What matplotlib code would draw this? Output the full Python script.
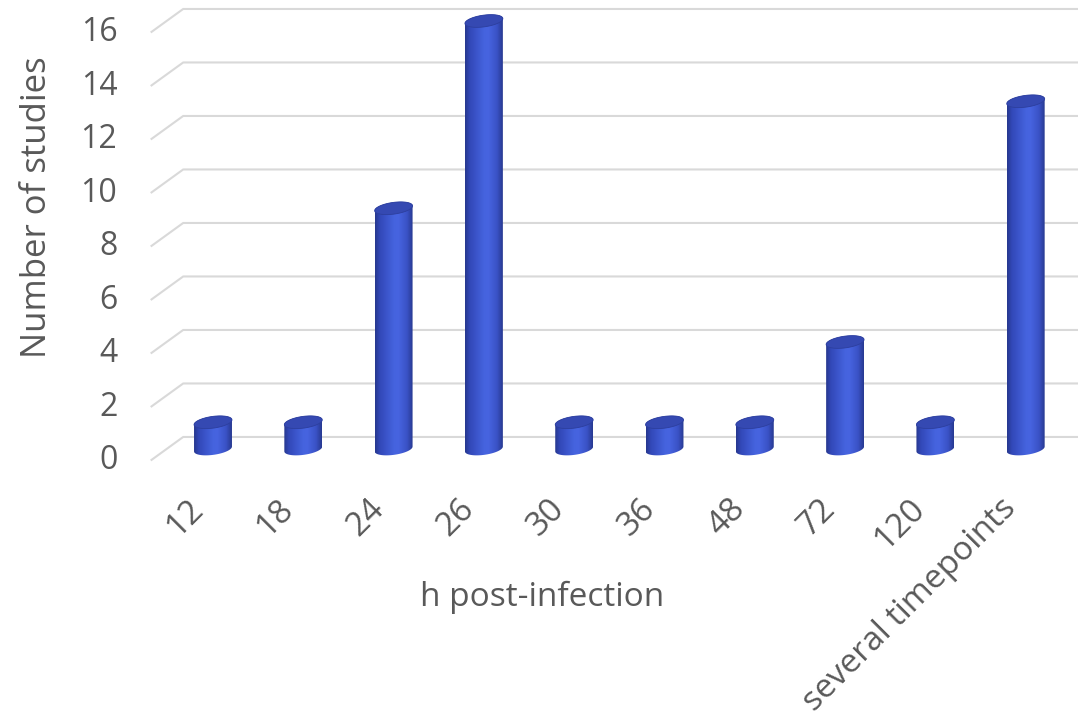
import numpy as np
import matplotlib.pyplot as plt
from matplotlib.path import Path
from matplotlib.patches import PathPatch, Polygon
from matplotlib.colors import LinearSegmentedColormap

plt.rcParams['font.family'] = ['Open Sans', 'DejaVu Sans']

categories = ['12', '18', '24', '26', '30', '36', '48', '72', '120', 'several timepoints']
studies = [1, 1, 9, 16, 1, 1, 1, 4, 1, 13]
yticks = [0, 2, 4, 6, 8, 10, 12, 14, 16]

TXT = '#595959'
GRID = '#d9d9d9'

# pseudo-3d geometry in data units (1 unit x = one category, 1 unit y = one study)
BACK_DY = 0.45      # back wall sits above the bar plane
FRONT_DY = -0.43    # front edge of the side wall
BACK_X0 = -0.33
FRONT_X0 = -0.69
HW = 0.21           # cylinder half width
RY = 0.22           # ellipse half height
TILT = 0.09         # right side of the ellipses sits a bit higher

fig = plt.figure(figsize=(10.78, 7.25), dpi=100)
ax = fig.add_axes([0, 0, 1, 1])
ax.set_axis_off()

# wall gridlines: diagonal on the side wall, then flat along the back wall
for v in yticks:
    ax.plot([FRONT_X0, BACK_X0, 9.6], [v + FRONT_DY, v + BACK_DY, v + BACK_DY],
            color=GRID, lw=1.5, solid_capstyle='butt', zorder=1)
    ax.text(-1.06, v + FRONT_DY, str(v), ha='right', va='center',
            fontsize=23, color=TXT)

shade = LinearSegmentedColormap.from_list('cyl', [
    (0.0, '#27388f'), (0.12, '#3248b8'), (0.5, '#4563de'),
    (0.62, '#4764e0'), (0.85, '#3a52c6'), (1.0, '#283a92')])
grad = shade(np.linspace(0, 1, 64))[np.newaxis, :, :]

t = np.linspace(0, np.pi, 40)


def ellipse_pts(cx, cy, theta):
    x = cx + HW * np.cos(theta)
    y = cy + RY * np.sin(theta) + TILT * np.cos(theta)
    return x, y


for i, v in enumerate(studies):
    # body: straight sides, rounded bottom
    bx, by = ellipse_pts(i, 0, np.pi + t)          # lower half, left to right
    tx, ty = ellipse_pts(i, v, t)                  # upper half, right to left
    verts = np.column_stack([np.r_[bx, tx], np.r_[by, ty]])
    body = PathPatch(Path(np.vstack([verts, verts[:1]]), closed=True),
                     facecolor='none', edgecolor='none')
    ax.add_patch(body)
    im = ax.imshow(grad, extent=(i - HW, i + HW, -RY - 0.2, v + RY + 0.2),
                   aspect='auto', interpolation='bilinear', zorder=3)
    im.set_clip_path(body)

    # top cap
    cx_, cy_ = ellipse_pts(i, v, np.linspace(0, 2 * np.pi, 80))
    ax.add_patch(Polygon(np.column_stack([cx_, cy_]), closed=True,
                         facecolor='#3549b2', edgecolor='#2d3f9e', lw=0.6, zorder=4))

    ax.text(i - 0.16, -2.05, categories[i], rotation=45, rotation_mode='anchor',
            ha='right', va='center', fontsize=24, color=TXT)

ax.text(-1.95, 9.05, 'Number of studies', rotation=90, ha='center', va='center',
        fontsize=25, color=TXT)
ax.text(3.65, -5.53, 'h post-infection', ha='center', va='center',
        fontsize=24, color=TXT)

ax.set_xlim(-213 / 90.3, (1078 - 213) / 90.3)
ax.set_ylim(-276 / 26.75, 449 / 26.75)

fig.savefig('out.png', dpi=100)
